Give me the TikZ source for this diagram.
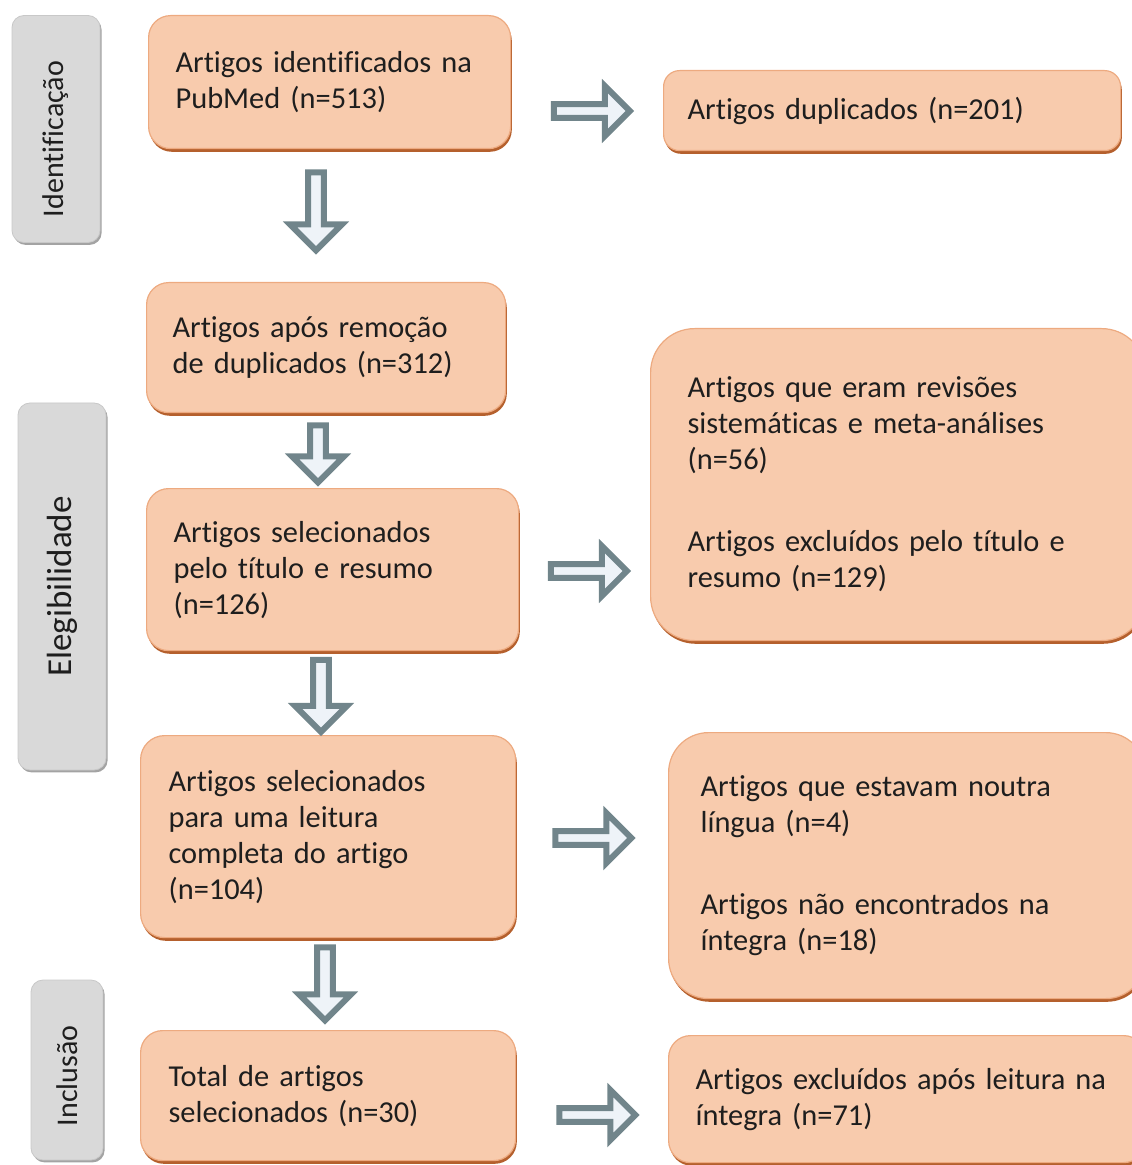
\documentclass[tikz,border=0pt]{standalone}
\usepackage{fontspec}
\setmainfont{Carlito}[Ligatures=NoCommon]
\usetikzlibrary{shapes.arrows,shadows,calc}
\definecolor{boxfill}{HTML}{F8CBAD}
\definecolor{boxline}{HTML}{EDAA80}
\definecolor{boxshadow}{HTML}{B5602D}
\definecolor{fasefill}{HTML}{D9D9D9}
\definecolor{faseshadow}{HTML}{A3A3A3}
\definecolor{setaline}{HTML}{71858B}
\definecolor{setafill}{HTML}{EEF3F8}
\definecolor{textcol}{HTML}{1E1E1E}

\tikzset{
  caixa/.style={anchor=north west, draw=boxline, fill=boxfill, line width=0.6pt,
    align=left, text=textcol, font=\fontsize{15.2}{18}\selectfont,
    drop shadow={shadow xshift=0.6pt, shadow yshift=-1.6pt, fill=boxshadow, opacity=1}},
  fase/.style={draw=fasefill!92!black, fill=fasefill, line width=0.4pt, rounded corners=6pt,
    inner sep=0pt, text=textcol, font=\fontsize{15}{18}\selectfont,
    drop shadow={shadow xshift=0.8pt, shadow yshift=-1.2pt, fill=faseshadow, opacity=1}},
  seta/.style={single arrow, draw=setaline, fill=setafill, line width=3pt,
    inner sep=0pt, single arrow tip angle=90},
  setabaixo/.style={seta, rotate=-90, minimum width=26pt, single arrow head extend=3.5pt},
  setadireita/.style={seta, minimum height=38pt, minimum width=25pt, single arrow head extend=4pt}
}

\begin{document}
\begin{tikzpicture}[x=0.5pt, y=-0.5pt]
  \useasboundingbox (0,0) rectangle (1131,1165);

  % fases
  \node[fase, minimum width=44pt, minimum height=113.5pt] (fid) at (56,129)
    {\rotatebox{90}{Identificação\hspace{10pt}}};
  \node[fase, minimum width=44pt, minimum height=183.5pt,
    font=\fontsize{17.5}{20}\selectfont] (fel) at (62,586.5)
    {\rotatebox{90}{Elegibilidade}};
  \node[fase, minimum width=36pt, minimum height=90pt] (fin) at (67,1070)
    {\rotatebox{90}{Inclusão\hspace{6pt}}};

  % caixas principais
  \node[caixa, rounded corners=11pt, minimum width=181pt, minimum height=66.5pt,
    text width=154pt, inner xsep=13.5pt] (ident) at (148,15)
    {Artigos identificados na\\PubMed (n=513)};
  \node[caixa, rounded corners=11pt, minimum width=179.5pt, minimum height=65pt,
    text width=153.5pt, inner xsep=13pt] (semdup) at (146,282)
    {Artigos após remoção\\de duplicados (n=312)};
  \node[caixa, rounded corners=11pt, minimum width=186pt, minimum height=81pt,
    text width=159pt, inner xsep=13.5pt] (titres) at (146,488)
    {Artigos selecionados\\pelo título e resumo\\(n=126)};
  \node[caixa, rounded corners=12pt, minimum width=187.5pt, minimum height=101pt,
    text width=159.5pt, inner xsep=14pt] (leitura) at (140,735)
    {Artigos selecionados\\para uma leitura\\completa do artigo\\(n=104)};
  \node[caixa, rounded corners=11pt, minimum width=187.5pt, minimum height=65pt,
    text width=159.5pt, inner xsep=14pt] (total) at (140,1030)
    {Total de artigos\\selecionados (n=30)};

  % caixas de exclusao
  \node[caixa, rounded corners=8pt, minimum width=228.5pt, minimum height=40pt,
    text width=204.5pt, inner xsep=12pt] (dup) at (663,70)
    {Artigos duplicados (n=201)};
  \node[caixa, rounded corners=22pt, minimum width=247.5pt, minimum height=156pt,
    text width=210.5pt, inner xsep=18.5pt] (excA) at (650,328)
    {Artigos que eram revisões\\sistemáticas e meta-análises\\(n=56)\\[23pt]Artigos excluídos pelo título e\\resumo (n=129)};
  \node[caixa, rounded corners=20pt, minimum width=238.5pt, minimum height=133pt,
    text width=206.5pt, inner xsep=16pt] (excB) at (668,732)
    {Artigos que estavam noutra\\língua (n=4)\\[23pt]Artigos não encontrados na\\íntegra (n=18)};
  \node[caixa, rounded corners=11pt, minimum width=238.5pt, minimum height=63.5pt,
    text width=211.5pt, inner xsep=13.5pt] (excC) at (668,1035)
    {Artigos excluídos após leitura na\\íntegra (n=71)};

  % setas para baixo
  \node[setabaixo, minimum height=39pt] (d1) at (316,207.5) {};
  \node[setabaixo, minimum height=28.5pt] (d2) at (318,450) {};
  \node[setabaixo, minimum height=36pt] (d3) at (321,692) {};
  \node[setabaixo, minimum height=36.5pt] (d4) at (325,980) {};

  % setas para a direita
  \node[setadireita] (r1) at (588.5,111) {};
  \node[setadireita] (r2) at (585.5,571) {};
  \node[setadireita] (r3) at (590,838) {};
  \node[setadireita] (r4) at (594,1115) {};
\end{tikzpicture}
\end{document}
